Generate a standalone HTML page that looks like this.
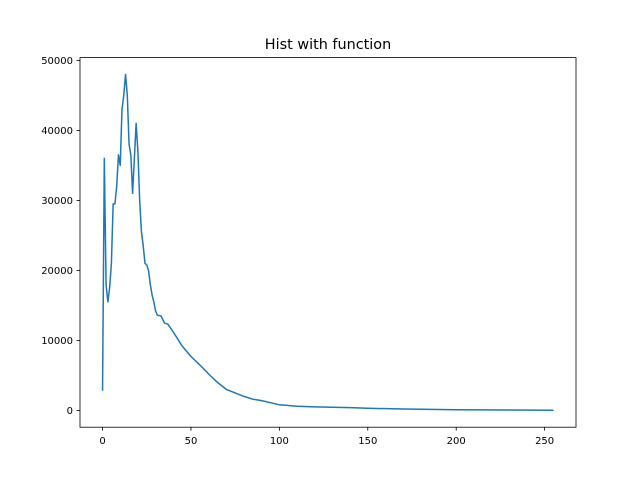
<!DOCTYPE html>
<html><head><meta charset="utf-8"><style>
body{margin:0;background:#fff}
svg{display:block;font-family:"DejaVu Sans","Liberation Sans",sans-serif}
</style></head><body>
<svg id="chart" width="640" height="480">
<rect width="640" height="480" fill="#fff"/>
<text x="328" y="49" font-size="14.4" text-anchor="middle">Hist with function</text>
<g id="ticks"></g>
<path id="line" fill="none" stroke="#1f77b4" stroke-width="1.5" stroke-linejoin="round"/>
<rect x="80" y="57.6" width="496" height="369.6" fill="none" stroke="#000" stroke-width="0.8"/>
</svg>
<script>
const xs=[0,1,2,3,4,5,6,7,8,9,10,11,12,13,14,15,16,17,18,19,20,21,22,23,24,25,26,27,28,29,30,31,33,35,37,40,45,50,55,60,65,70,75,80,85,90,95,100,110,120,130,140,150,170,200,230,255];
const ys=[2800,36000,18000,15500,17500,21000,29500,29500,32000,36500,35000,43000,45000,48000,45000,38000,36500,31000,36000,41000,37000,30000,25500,23500,21000,20800,20000,18000,16500,15500,14200,13600,13500,12500,12300,11200,9200,7700,6500,5200,4000,3000,2500,2000,1600,1400,1100,800,600,500,450,400,300,200,100,50,20];
const xTicks=[0,50,100,150,200,250];
const yTicks=[0,10000,20000,30000,40000,50000];
const L=80,R=576,T=57.6,B=427.2;
const xmin=-12.75,xmax=267.75,ymin=-2400,ymax=50400;
const sx=v=>L+(v-xmin)/(xmax-xmin)*(R-L);
const sy=v=>B-(v-ymin)/(ymax-ymin)*(B-T);
document.getElementById('line').setAttribute('d',xs.map((x,i)=>(i?'L':'M')+sx(x).toFixed(2)+','+sy(ys[i]).toFixed(2)).join(''));
const g=document.getElementById('ticks');const NS='http://www.w3.org/2000/svg';
xTicks.forEach(t=>{const x=sx(t);
const l=document.createElementNS(NS,'line');l.setAttribute('x1',x);l.setAttribute('x2',x);l.setAttribute('y1',B);l.setAttribute('y2',B+3.5);l.setAttribute('stroke','#000');l.setAttribute('stroke-width','0.8');

g.appendChild(l);
const s=document.createElementNS(NS,'text');s.setAttribute('x',x);s.setAttribute('y',B+17);s.setAttribute('font-size','10');s.setAttribute('text-anchor','middle');s.textContent=t;

g.appendChild(s);});
yTicks.forEach(t=>{const y=sy(t);
const l=document.createElementNS(NS,'line');l.setAttribute('x1',L-3.5);l.setAttribute('x2',L);l.setAttribute('y1',y);l.setAttribute('y2',y);l.setAttribute('stroke','#000');l.setAttribute('stroke-width','0.8');

g.appendChild(l);
const s=document.createElementNS(NS,'text');s.setAttribute('x',L-7);s.setAttribute('y',y+3.6);s.setAttribute('font-size','10');s.setAttribute('text-anchor','end');s.textContent=t;

g.appendChild(s);});
</script>
</body></html>
